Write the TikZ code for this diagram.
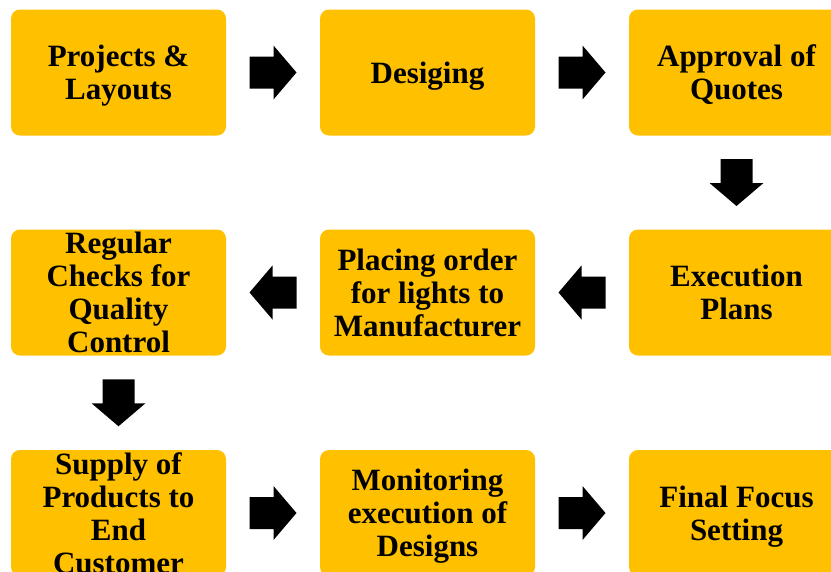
\documentclass[tikz,border=0pt]{standalone}
\usepackage{fontspec}
\setmainfont{Liberation Serif}
\usetikzlibrary{calc}
\definecolor{boxfill}{HTML}{FFC000}
\tikzset{
  stepbox/.style={fill=boxfill, rounded corners=9pt, minimum width=215pt, minimum height=126pt,
    inner sep=0pt, align=center, text depth=0pt, font=\fontsize{31}{33}\selectfont\bfseries, text=black},
  rarr/.pic={\fill[black] (-23.5,-16) -- (0.5,-16) -- (0.5,-27) -- (23.5,0) -- (0.5,27) -- (0.5,16) -- (-23.5,16) -- cycle;},
  larr/.pic={\fill[black] (23.5,-16) -- (-0.5,-16) -- (-0.5,-27) -- (-23.5,0) -- (-0.5,27) -- (-0.5,16) -- (23.5,16) -- cycle;},
  darr/.pic={\fill[black] (-16,-23.5) -- (-16,0.5) -- (-27,0.5) -- (0,23.5) -- (27,0.5) -- (16,0.5) -- (16,-23.5) -- cycle;},
}
\begin{document}
\begin{tikzpicture}[x=1pt,y=-1pt]
\useasboundingbox (0,0) rectangle (831,571);
% row 1
\node[stepbox] (n1) at (118.5,72.5) {Projects \&\\Layouts};
\node[stepbox] (n2) at (427.5,72.5) {Desiging};
\node[stepbox] (n3) at (736.5,72.5) {Approval of\\Quotes};
% row 2
\node[stepbox] (n4) at (736.5,292.5) {Execution\\Plans};
\node[stepbox] (n5) at (427.5,292.5) {Placing order\\for lights to\\Manufacturer};
\node[stepbox] (n6) at (118.5,292.5) {Regular\\Checks for\\Quality\\Control};
% row 3
\node[stepbox] (n7) at (118.5,513) {Supply of\\Products to\\End\\Customer};
\node[stepbox] (n8) at (427.5,513) {Monitoring\\execution of\\Designs};
\node[stepbox] (n9) at (736.5,513) {Final Focus\\Setting};
% connectors
\coordinate (m12) at ($(n1.east)!0.5!(n2.west)$);
\coordinate (m23) at ($(n2.east)!0.5!(n3.west)$);
\coordinate (m34) at ($(n3.south)!0.5!(n4.north)$);
\coordinate (m45) at ($(n4.west)!0.5!(n5.east)$);
\coordinate (m56) at ($(n5.west)!0.5!(n6.east)$);
\coordinate (m67) at ($(n6.south)!0.5!(n7.north)$);
\coordinate (m78) at ($(n7.east)!0.5!(n8.west)$);
\coordinate (m89) at ($(n8.east)!0.5!(n9.west)$);
\pic at (m12) {rarr};
\pic at (m23) {rarr};
\pic at (m34) {darr};
\pic at (m45) {larr};
\pic at (m56) {larr};
\pic at (m67) {darr};
\pic at (m78) {rarr};
\pic at (m89) {rarr};
\end{tikzpicture}
\end{document}
